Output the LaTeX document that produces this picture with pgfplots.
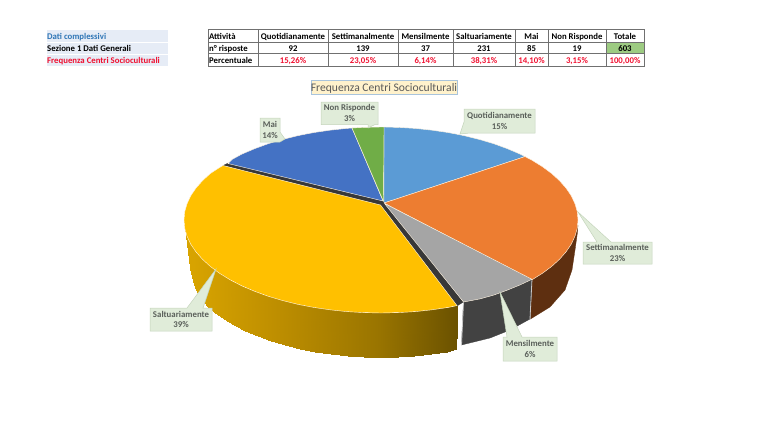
\documentclass[border=0pt]{standalone}
\usepackage{pgfplots}
\usepackage{fontspec}
\setmainfont{Carlito}
\pgfplotsset{compat=1.18}
\definecolor{cQ}{HTML}{5B9BD5}
\definecolor{cS}{HTML}{ED7D31}
\definecolor{cM}{HTML}{A5A5A5}
\definecolor{cY}{HTML}{FFC000}
\definecolor{cB}{HTML}{4472C4}
\definecolor{cG}{HTML}{70AD47}
\definecolor{wS}{HTML}{5E2F10}
\definecolor{wM}{HTML}{424242}
\definecolor{edgeL}{HTML}{FFF3E0}
\definecolor{lab}{HTML}{E0ECD9}
\definecolor{labB}{HTML}{C4D4BB}
\definecolor{labT}{HTML}{5A5F5A}
\definecolor{grid}{HTML}{707070}
\definecolor{hdr}{HTML}{E6ECF6}
\definecolor{dblue}{HTML}{2E75B6}
\definecolor{rred}{HTML}{F01030}
\definecolor{tot}{HTML}{9DCB82}
\definecolor{ttl}{HTML}{FFF2CC}
\definecolor{ttlB}{HTML}{A9C4DC}
\newcommand{\lf}{\fontsize{8.8}{10.2}\selectfont\bfseries}
\newcommand{\tf}{\fontsize{8.75}{11}\selectfont\bfseries}
\tikzset{tc/.style={font=\tf,inner sep=0pt,anchor=base},tl/.style={font=\tf,inner sep=0pt,anchor=base west}}
\begin{document}
\begin{tikzpicture}[x=1pt,y=1pt]
\path[use as bounding box] (0,0) rectangle (768pt,432pt);
\begin{axis}[
  at={(0,0)},anchor=south west,
  scale only axis,width=768pt,height=432pt,
  xmin=0,xmax=768,ymin=0,ymax=432,y dir=reverse,
  hide axis,
  colormap={yw}{rgb255(0cm)=(216,164,0); rgb255(3cm)=(192,144,0); rgb255(7cm)=(154,117,0); rgb255(10cm)=(107,82,0)},
]
% ---- side walls
\addplot[surf,shader=interp,mesh/rows=2,point meta=x,point meta min=189,point meta max=457] table[x index=0,y index=1] {
457.5 305
448.4 307
432 309
415.2 311
398.2 312
381 312.5
363.8 312
346.8 311
330 309
313.6 307
297.7 304
282.5 300
268 296
254.4 291
241.7 285.5
230.1 279.5
219.6 273
210.4 266
202.5 259
195.9 251.5
190.7 244
187 236
184.8 228
456 348.5
446.7 351.6
430.7 354
414.3 355.6
397.7 356.7
381 357
364.3 356.7
347.7 355.6
331.3 354
315.3 351.6
299.9 348.7
285 345.1
270.9 340.9
257.6 336.2
245.2 330.9
233.9 325.2
223.7 319
214.7 312.5
207 305.6
200.6 298.4
195.5 290
192.5 281
189.5 268
};
\addplot[fill=wS,draw=wS,line width=0.3pt] coordinates {
(578,225)(577.3,228.1)(575,236.1)(571.3,244.1)(566.1,251.8)(559.5,259.3)(551.6,266.5)(542.4,273.3)(532,279.8)
(530.5,319)(550,307)(565,290)(572,270)(575,250)(577.5,232)(578,225)};
\addplot[fill=wM,draw=wM,line width=0.3pt] coordinates {
(532,279)(520.3,284.5)(507.6,290)(494,295)(479.5,299)(463.5,302)(461.5,345)(490,338)(510,330)(530,319)(532,279)};
\addplot[draw=white!78!black,line width=0.8pt] coordinates {(463.5,302)(461.5,345)};
\addplot[draw=white!78!black,line width=0.8pt] coordinates {(532,279)(530,319)};
% ---- dark inner walls
\addplot[fill=black!78,draw=black!78,line width=0.2pt] coordinates {
(228,163)(383,201)(386,204)(463.5,302)(457,306)(380,205)(223,165.5)(228,163)};
% ---- top faces
\addplot[fill=cQ,draw=edgeL,line width=0.4pt] coordinates {
(384,203)(384,127)(398.2,127.4)(415.2,128.4)(432,130.2)(448.4,132.6)(464.3,135.7)(479.5,139.5)(494,143.8)(507.6,148.8)(520.3,154.2)(525,156.6)(384,203)};
\addplot[fill=cS,draw=edgeL,line width=0.4pt] coordinates {
(384,203)(525,156.6)(531.9,160.2)(542.4,166.7)(551.6,173.5)(559.5,180.7)(566.1,188.2)(571.3,195.9)(575,203.9)(577.3,211.9)(578,220)(577.3,228.1)(575,236.1)(571.3,244.1)(566.1,251.8)(559.5,259.3)(551.6,266.5)(542.4,273.3)(532,279.8)(384,203)};
\addplot[fill=cM,draw=edgeL,line width=0.4pt] coordinates {
(384.5,203.5)(532,279.3)(520.3,284.8)(507.6,290)(494,295)(479.5,299)(463.5,302)(384.5,203.5)};
\addplot[fill=cY,draw=edgeL,line width=0.4pt] coordinates {
(380.5,205)(457,305.6)(448.4,307.4)(432,309.8)(415.2,311.6)(398.2,312.6)(381,313)(363.8,312.6)(346.8,311.6)(330,309.8)(313.6,307.4)(297.7,304.3)(282.5,300.5)(268,296.2)(254.4,291.2)(241.7,285.8)(230.1,279.8)(219.6,273.3)(210.4,266.5)(202.5,259.3)(195.9,251.8)(190.7,244.1)(187,236.1)(184.7,228.1)(184,220)(184.7,211.9)(187,203.9)(190.7,195.9)(195.9,188.2)(202.5,180.7)(210.4,173.5)(219.6,167.5)(223,165.5)(380.5,205)};
\addplot[fill=cB,draw=edgeL,line width=0.4pt] coordinates {
(383,201)(228,163.5)(232,159.5)(241.7,154.2)(254.4,148.8)(268,143.8)(282.5,139.5)(297.7,135.7)(313.6,132.6)(330,130.2)(346.8,128.4)(352,128)(383,201)};
\addplot[fill=cG,draw=edgeL,line width=0.4pt] coordinates {
(383.5,201.5)(352,128)(363.8,127.4)(381,127)(384,127)(383.5,201.5)};
% ---- callouts
\draw[fill=lab,draw=labB,line width=0.5pt] (321,102)--(378,102)--(378,124.5)--(375,124.5)--(368,128)--(368,124.5)--(321,124.5)--cycle;
\draw[fill=lab,draw=labB,line width=0.5pt] (260,118)--(280,118)--(280,132)--(285,139)--(280,142)--(260,142)--cycle;
\draw[fill=lab,draw=labB,line width=0.5pt] (464,109)--(535,109)--(535,133)--(470,133)--(460,134)--(464,122)--cycle;
\draw[fill=lab,draw=labB,line width=0.5pt] (583,242)--(597,242)--(578,212)--(611,242)--(652,242)--(652,264)--(583,264)--cycle;
\draw[fill=lab,draw=labB,line width=0.5pt] (503,337)--(507,337)--(500,292)--(522,337)--(557,337)--(557,361)--(503,361)--cycle;
\draw[fill=lab,draw=labB,line width=0.5pt] (150,308)--(187,308)--(216,269)--(203,308)--(212,308)--(212,331)--(150,331)--cycle;
\node[align=center,text=labT,font=\lf,inner sep=0pt] at (349.5,113) {Non Risponde\\3\%};
\node[align=center,text=labT,font=\lf,inner sep=0pt] at (270,130) {Mai\\14\%};
\node[align=center,text=labT,font=\lf,inner sep=0pt] at (499.5,121) {Quotidianamente\\15\%};
\node[align=center,text=labT,font=\lf,inner sep=0pt] at (617.5,253) {Settimanalmente\\23\%};
\node[align=center,text=labT,font=\lf,inner sep=0pt] at (530,349) {Mensilmente\\6\%};
\node[align=center,text=labT,font=\lf,inner sep=0pt] at (181,319.5) {Saltuariamente\\39\%};
% ---- chart title
\draw[fill=ttl,draw=ttlB,line width=0.8pt] (311,80) rectangle (457,94);
\node[text=black!65,font=\fontsize{11.6}{14}\selectfont,inner sep=0pt,anchor=base] at (384,91) {Frequenza Centri Socioculturali};
% ---- left block
\fill[hdr] (47,30) rectangle (168,65.5);
\draw[white,line width=0.6pt] (47,42)--(168,42) (47,54)--(168,54);
\node[tl,text=dblue] at (47,39.3) {Dati complessivi};
\node[tl,text=black] at (47,51.3) {Sezione 1 Dati Generali};
\node[tl,text=rred] at (47,63.3) {Frequenza Centri Socioculturali};
% ---- table
\fill[tot] (606,42) rectangle (644,53.5);
\draw[grid,line width=0.6pt] (208,29.5) rectangle (644,66);
\draw[grid,line width=0.6pt] (208,42)--(644,42) (208,53.5)--(644,53.5);
\draw[grid,line width=0.6pt] (258,29.5)--(258,66) (328,29.5)--(328,66) (398,29.5)--(398,66) (453,29.5)--(453,66) (515,29.5)--(515,66) (548,29.5)--(548,66) (606,29.5)--(606,66);
\node[tl] at (209,39.3) {Attività};
\node[tl] at (209,51.3) {n° risposte};
\node[tl] at (209,63.3) {Percentuale};
\node[tc] at (293,39.3) {Quotidianamente};
\node[tc] at (363,39.3) {Settimanalmente};
\node[tc] at (425.5,39.3) {Mensilmente};
\node[tc] at (484,39.3) {Saltuariamente};
\node[tc] at (531.5,39.3) {Mai};
\node[tc] at (577,39.3) {Non Risponde};
\node[tc] at (625,39.3) {Totale};
\node[tc] at (293,51.3) {92};
\node[tc] at (363,51.3) {139};
\node[tc] at (425.5,51.3) {37};
\node[tc] at (484,51.3) {231};
\node[tc] at (531.5,51.3) {85};
\node[tc] at (577,51.3) {19};
\node[tc] at (625,51.3) {603};
\node[tc,text=rred] at (293,63.3) {15,26\%};
\node[tc,text=rred] at (363,63.3) {23,05\%};
\node[tc,text=rred] at (425.5,63.3) {6,14\%};
\node[tc,text=rred] at (484,63.3) {38,31\%};
\node[tc,text=rred] at (531.5,63.3) {14,10\%};
\node[tc,text=rred] at (577,63.3) {3,15\%};
\node[tc,text=rred] at (625,63.3) {100,00\%};
\end{axis}
\end{tikzpicture}
\end{document}
